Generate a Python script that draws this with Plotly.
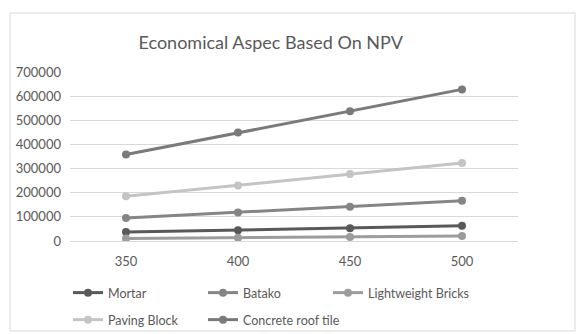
import plotly.graph_objects as go

categories = ["350", "400", "450", "500"]
mortar = [37000, 45000, 53000, 63000]
batako = [95000, 118000, 142000, 167000]
lightweight = [10000, 13000, 17000, 21000]
paving = [185000, 230000, 278000, 323000]
roof_tile = [358000, 449000, 537000, 628000]
y_ticks = [0, 100000, 200000, 300000, 400000, 500000, 600000, 700000]

series = [
    ("Mortar", mortar, "#595959"),
    ("Batako", batako, "#858585"),
    ("Lightweight Bricks", lightweight, "#9c9c9c"),
    ("Paving Block", paving, "#c4c4c4"),
    ("Concrete roof tile", roof_tile, "#7a7a7a"),
]

FW, FH = 576, 334
L, T, W, H = 70, 72, 448, 169
# legend slot positions (pixel) for each series: (left x, center y)
legend_pos = [(68, 293), (203, 293), (328, 293), (68, 320), (203, 320)]

font_family = "Lato, 'Open Sans', sans-serif"
fig = go.Figure()
layout_legends = {}
for i, (name, vals, col) in enumerate(series):
    lname = "legend" if i == 0 else f"legend{i + 1}"
    fig.add_trace(go.Scatter(
        x=categories, y=vals, name=name, mode="lines+markers",
        line=dict(color=col, width=3),
        marker=dict(color=col, size=8),
        legend=lname,
    ))
    px, py = legend_pos[i]
    layout_legends[lname] = dict(
        orientation="h", xref="container", yref="container",
        x=px / FW, xanchor="left", y=1 - py / FH, yanchor="middle",
        itemwidth=30, bgcolor="rgba(0,0,0,0)",
        font=dict(family=font_family, size=12.5, color="#595959"),
    )

fig.update_layout(
    width=FW, height=FH,
    margin=dict(l=L, r=FW - L - W, t=T, b=FH - T - H, autoexpand=False),
    paper_bgcolor="white", plot_bgcolor="white",
    title=dict(text="Economical Aspec Based On NPV", x=0.47, xanchor="center",
               y=1 - 43 / FH, yanchor="middle",
               font=dict(family=font_family, size=18, color="#595959")),
    font=dict(family=font_family, size=13, color="#595959"),
    showlegend=True,
    xaxis=dict(type="category", range=[-0.5, 3.5], showgrid=False, zeroline=False,
               showline=True, linecolor="#d9d9d9", linewidth=1, ticks="",
               ticklabelstandoff=8, tickfont=dict(size=13, color="#595959")),
    yaxis=dict(range=[0, 700000], tickvals=y_ticks, ticktext=[str(v) for v in y_ticks],
               showgrid=True, gridcolor="#d9d9d9", gridwidth=1, zeroline=False,
               ticks="", ticklabelstandoff=8, tickfont=dict(size=13, color="#595959")),
    shapes=[dict(type="rect", xref="paper", yref="paper",
                 x0=(10 - L) / W, x1=(575 - L) / W,
                 y0=(T + H - 331) / H, y1=(T + H - 13) / H,
                 line=dict(color="#d9d9d9", width=1), fillcolor="rgba(0,0,0,0)",
                 layer="below")],
    **layout_legends,
)

fig.write_html("out.html", config={"displayModeBar": False},
               post_script="document.body.style.margin='0';")
